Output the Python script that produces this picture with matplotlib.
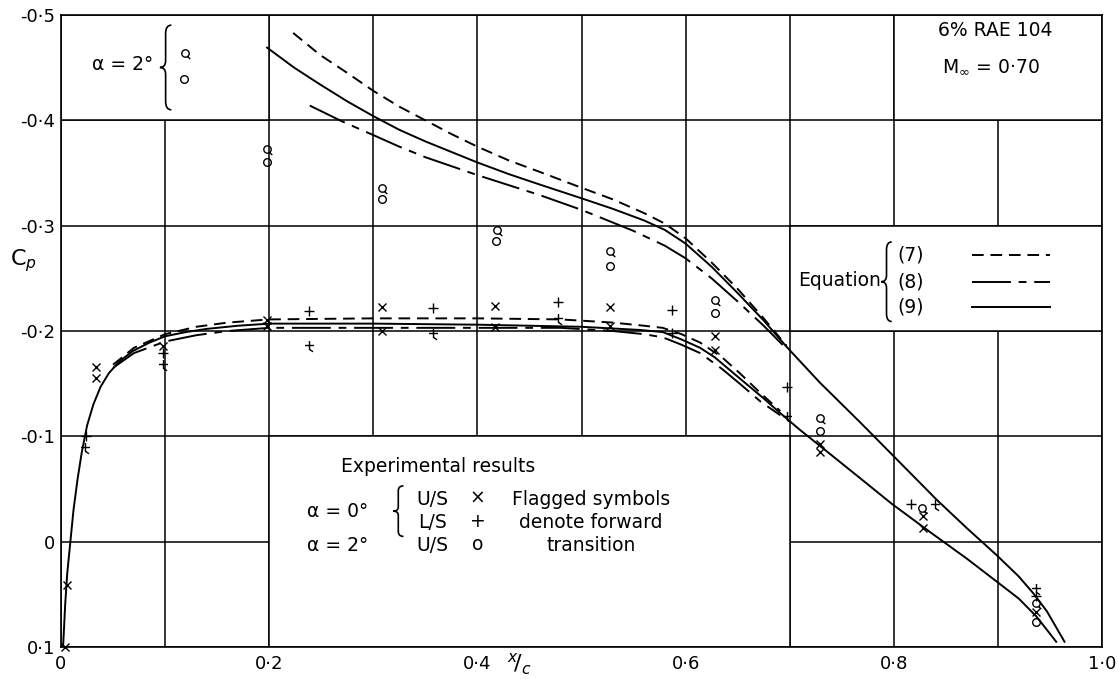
import numpy as np
import matplotlib.pyplot as plt
from matplotlib.path import Path
from matplotlib.patches import PathPatch, Rectangle

# ---- theory curves, alpha = 2 deg (upper surface) ----
x_a2_eq9 = [0.198, 0.224, 0.249, 0.275, 0.3, 0.325, 0.35, 0.375, 0.4, 0.43, 0.46, 0.5, 0.53,
            0.56, 0.58, 0.6, 0.625, 0.65, 0.675, 0.697, 0.729, 0.768, 0.798, 0.841, 0.87,
            0.899, 0.92, 0.934, 0.947, 0.964]
cp_a2_eq9 = [-0.469, -0.450, -0.434, -0.418, -0.404, -0.391, -0.380, -0.370, -0.360, -0.349, -0.339,
             -0.326, -0.316, -0.305, -0.296, -0.283, -0.261, -0.236, -0.210, -0.185, -0.151, -0.113,
             -0.083, -0.040, -0.013, 0.013, 0.033, 0.049, 0.066, 0.095]

x_a2_eq7 = [0.223, 0.249, 0.275, 0.3, 0.325, 0.35, 0.375, 0.4, 0.43, 0.46, 0.5, 0.53, 0.56,
            0.58, 0.6, 0.625, 0.65, 0.675, 0.697]
cp_a2_eq7 = [-0.483, -0.462, -0.445, -0.428, -0.413, -0.400, -0.387, -0.375, -0.362, -0.351, -0.336,
             -0.325, -0.312, -0.302, -0.288, -0.265, -0.240, -0.212, -0.186]

x_a2_eq8 = [0.239, 0.27, 0.3, 0.325, 0.35, 0.4, 0.46, 0.5, 0.55, 0.58, 0.6, 0.625, 0.65, 0.675, 0.697]
cp_a2_eq8 = [-0.414, -0.399, -0.386, -0.375, -0.365, -0.348, -0.329, -0.315, -0.295, -0.281, -0.269,
             -0.250, -0.228, -0.205, -0.183]

# ---- theory curves, alpha = 0 ----
x_a0_eq9 = [0.002, 0.004, 0.006, 0.009, 0.012, 0.016, 0.02, 0.025, 0.031, 0.038, 0.046, 0.056,
            0.069, 0.085, 0.1, 0.12, 0.14, 0.17, 0.2, 0.3, 0.4, 0.5, 0.556, 0.578, 0.596, 0.614,
            0.628, 0.652, 0.675, 0.691, 0.71, 0.729, 0.768, 0.798, 0.835, 0.87, 0.899, 0.92,
            0.937, 0.956]
cp_a0_eq9 = [0.1, 0.06, 0.03, 0.0, -0.03, -0.06, -0.085, -0.11, -0.13, -0.147, -0.16, -0.171,
             -0.181, -0.189, -0.195, -0.199, -0.202, -0.205, -0.207, -0.207, -0.206, -0.204, -0.201,
             -0.199, -0.192, -0.184, -0.175, -0.155, -0.136, -0.122, -0.106, -0.091, -0.060, -0.036,
             -0.009, 0.016, 0.038, 0.054, 0.071, 0.095]

x_a0_eq7 = [0.05, 0.07, 0.1, 0.13, 0.16, 0.2, 0.3, 0.4, 0.48, 0.53, 0.56, 0.578, 0.596, 0.614,
            0.635, 0.652, 0.672, 0.691]
cp_a0_eq7 = [-0.168, -0.184, -0.197, -0.204, -0.208, -0.211, -0.212, -0.212, -0.211, -0.208, -0.205,
             -0.203, -0.197, -0.189, -0.175, -0.160, -0.141, -0.124]

x_a0_eq8 = [0.05, 0.07, 0.1, 0.13, 0.16, 0.2, 0.3, 0.4, 0.48, 0.53, 0.56, 0.578, 0.596, 0.614,
            0.635, 0.652, 0.672, 0.691]
cp_a0_eq8 = [-0.165, -0.179, -0.190, -0.196, -0.200, -0.203, -0.203, -0.203, -0.203, -0.200, -0.197,
             -0.194, -0.187, -0.179, -0.164, -0.150, -0.133, -0.120]

# ---- experiment ----
# alpha = 0, upper surface (x)
x_us0 = [0.004, 0.0055, 0.034, 0.034, 0.098, 0.198, 0.198, 0.308, 0.308, 0.417, 0.417,
         0.527, 0.527, 0.628, 0.628, 0.729, 0.729, 0.828, 0.828, 0.937]
cp_us0 = [0.1, 0.041, -0.166, -0.155, -0.186, -0.210, -0.205, -0.223, -0.200, -0.224, -0.204,
          -0.223, -0.205, -0.195, -0.182, -0.093, -0.085, -0.024, -0.013, 0.067]
# alpha = 0, lower surface (+)
x_ls0 = [0.024, 0.098, 0.238, 0.357, 0.477, 0.587, 0.587, 0.697, 0.817, 0.937]
cp_ls0 = [-0.1, -0.179, -0.219, -0.222, -0.228, -0.220, -0.198, -0.147, -0.036, 0.052]
x_ls0_flag = [0.023, 0.098, 0.238, 0.357, 0.477, 0.697, 0.840, 0.937]
cp_ls0_flag = [-0.090, -0.169, -0.187, -0.198, -0.212, -0.119, -0.036, 0.044]
# alpha = 2, upper surface (o)
x_us2 = [0.198, 0.308, 0.418, 0.527, 0.628, 0.729, 0.937]
cp_us2 = [-0.360, -0.325, -0.285, -0.262, -0.217, -0.105, 0.076]
x_us2_flag = [0.198, 0.308, 0.419, 0.527, 0.628, 0.729, 0.827, 0.937]
cp_us2_flag = [-0.373, -0.336, -0.296, -0.276, -0.229, -0.117, -0.032, 0.058]

xticks = [0, 0.2, 0.4, 0.6, 0.8, 1.0]
xticklabels = ['0', '0·2', '0·4', '0·6', '0·8', '1·0']
yticks = [-0.5, -0.4, -0.3, -0.2, -0.1, 0, 0.1]
yticklabels = ['-0·5', '-0·4', '-0·3', '-0·2', '-0·1', '0', '0·1']

plt.rcParams['font.family'] = 'DejaVu Sans'

# flagged symbols
flag_circle = Path.make_compound_path(Path.unit_circle(), Path([(0.55, -0.8), (1.3, -1.5)]))
flag_plus = Path([(-1, 0), (1, 0), (0, -1), (0, 1), (0, -0.9), (0.8, -1.4)],
                 [Path.MOVETO, Path.LINETO, Path.MOVETO, Path.LINETO, Path.MOVETO, Path.LINETO])

DASH7 = (0, (6, 3.5))
DASH8 = (0, (20, 4, 4, 4))
LW = 1.4
FS = 13.5

fig = plt.figure(figsize=(11.18, 6.79), dpi=100)
ax = fig.add_axes([61 / 1118, 32 / 679, 1041 / 1118, 632 / 679])
ax.set_xlim(0, 1.0)
ax.set_ylim(0.1, -0.5)

ax.set_xticks(xticks)
ax.set_xticklabels(xticklabels)
ax.set_xticks(np.arange(0.1, 1.0, 0.2), minor=True)
ax.set_yticks(yticks)
ax.set_yticklabels(yticklabels)
ax.tick_params(which='both', length=0, labelsize=13)
ax.tick_params(axis='x', pad=6)
ax.tick_params(axis='y', pad=4)
ax.set_axisbelow(True)
ax.grid(which='both', color='black', lw=1.1)
for s in ax.spines.values():
    s.set_linewidth(1.2)

# blank panels for the annotations
for (x0, y0, w, h) in [(0, -0.5, 0.2, 0.1), (0.8, -0.5, 0.2, 0.1),
                       (0.7, -0.3, 0.3, 0.1), (0.2, -0.1, 0.5, 0.2)]:
    ax.add_patch(Rectangle((x0, y0), w, h, facecolor='white', edgecolor='black', lw=1.1, zorder=1))

# theory
ax.plot(x_a2_eq9, cp_a2_eq9, color='black', lw=LW, zorder=3)
ax.plot(x_a2_eq7, cp_a2_eq7, color='black', lw=LW, ls=DASH7, zorder=3)
ax.plot(x_a2_eq8, cp_a2_eq8, color='black', lw=LW, ls=DASH8, zorder=3)
ax.plot(x_a0_eq9, cp_a0_eq9, color='black', lw=LW, zorder=3)
ax.plot(x_a0_eq7, cp_a0_eq7, color='black', lw=LW, ls=DASH7, zorder=3)
ax.plot(x_a0_eq8, cp_a0_eq8, color='black', lw=LW, ls=DASH8, zorder=3)

# experiment
mk = dict(ls='none', color='black', mfc='none', mew=1.0, zorder=4, clip_on=False)
ax.plot(x_us0, cp_us0, marker='x', ms=6, **mk)
ax.plot(x_ls0, cp_ls0, marker='+', ms=7, **mk)
ax.plot(x_ls0_flag, cp_ls0_flag, marker=flag_plus, ms=9, **mk)
ax.plot(x_us2, cp_us2, marker='o', ms=5.5, **mk)
ax.plot(x_us2_flag, cp_us2_flag, marker=flag_circle, ms=8, **mk)


def brace(x, y0, y1, w):
    # curly brace in axes fraction, tip pointing left at x
    h = y1 - y0
    ym = y0 + h / 2
    verts = [(x + w, y1), (x + w / 2, y1), (x + w / 2, y1 - 0.1 * h),
             (x + w / 2, ym + 0.08 * h), (x + w / 2, ym), (x, ym),
             (x + w / 2, ym), (x + w / 2, ym - 0.08 * h),
             (x + w / 2, y0 + 0.1 * h), (x + w / 2, y0), (x + w, y0)]
    codes = [Path.MOVETO, Path.CURVE3, Path.CURVE3, Path.LINETO, Path.CURVE3, Path.CURVE3,
             Path.CURVE3, Path.CURVE3, Path.LINETO, Path.CURVE3, Path.CURVE3]
    ax.add_patch(PathPatch(Path(verts, codes), fill=False, lw=1.2, color='black',
                           transform=ax.transAxes, zorder=5))


T = dict(transform=ax.transAxes, fontsize=FS, zorder=5)

# top-left key
ax.text(0.059, 0.921, 'α = 2°', ha='center', va='center', **T)
brace(0.095, 0.850, 0.984, 0.011)
ax.plot([0.119], [0.940], marker=flag_circle, ms=8, transform=ax.transAxes, **mk)
ax.plot([0.118], [0.899], marker='o', ms=5.5, transform=ax.transAxes, **mk)

# title box
ax.text(0.897, 0.975, '6% RAE 104', ha='center', va='center', **T)
ax.text(0.893, 0.918, r'M$_{\infty}$ = 0·70', ha='center', va='center', **T)

# equation key
ax.text(0.748, 0.580, 'Equation', ha='center', va='center', **T)
brace(0.788, 0.515, 0.641, 0.010)
for lab, fy, ls in [('(7)', 0.620, DASH7), ('(8)', 0.578, DASH8), ('(9)', 0.538, '-')]:
    ax.text(0.803, fy, lab, ha='left', va='center', **T)
    ax.plot([0.875, 0.950], [fy, fy], color='black', lw=LW, ls=ls, transform=ax.transAxes, zorder=5)

# experimental key
ax.text(0.362, 0.285, 'Experimental results', ha='center', va='center', **T)
ax.text(0.266, 0.215, 'α = 0°', ha='center', va='center', **T)
ax.text(0.266, 0.160, 'α = 2°', ha='center', va='center', **T)
brace(0.319, 0.175, 0.255, 0.010)
ax.text(0.357, 0.233, 'U/S', ha='center', va='center', **T)
ax.text(0.357, 0.197, 'L/S', ha='center', va='center', **T)
ax.text(0.357, 0.160, 'U/S', ha='center', va='center', **T)
ax.text(0.400, 0.235, '×', ha='center', va='center', **T)
ax.text(0.400, 0.199, '+', ha='center', va='center', **T)
ax.text(0.400, 0.162, 'o', ha='center', va='center', **T)
ax.text(0.509, 0.197, 'Flagged symbols\ndenote forward\ntransition', ha='center', va='center',
        linespacing=1.25, **T)

ax.text(0.44, -0.028, r'$^{x}\!/_{c}$', ha='center', va='center', transform=ax.transAxes, fontsize=16)
ax.text(-0.036, 0.612, r'C$_{p}$', ha='center', va='center', transform=ax.transAxes, fontsize=16)

fig.savefig('out.png', dpi=100)
